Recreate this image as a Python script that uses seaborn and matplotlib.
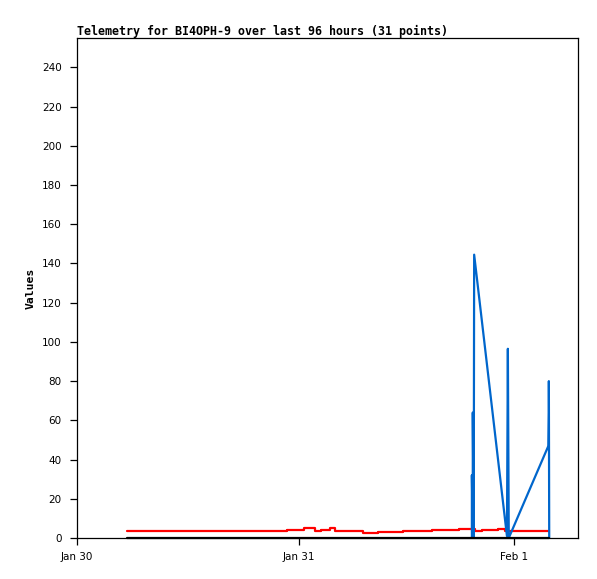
import pandas as pd
import matplotlib
matplotlib.use("Agg")
import matplotlib.pyplot as plt
import seaborn as sns

# hours since Jan 30 00:00
red_hours = [5.5, 23.0, 24.9, 26.1, 26.8, 27.8, 28.3, 31.4, 33.0, 35.8, 39.0, 41.9, 43.7, 44.5, 46.2, 47.0, 51.8]
red_values = [3.7, 4.2, 5.0, 3.7, 4.2, 5.0, 3.7, 2.7, 3.2, 3.7, 4.2, 4.8, 3.6, 4.2, 4.8, 3.6, 3.6]

blue_hours = [43.35, 43.35, 43.45, 43.45, 43.55, 43.6, 47.2, 47.3, 47.4, 51.75, 51.8, 51.8, 51.84]
blue_values = [0, 32, 0, 64, 0, 144.5, 1, 96.5, 0, 47, 64, 80, 0]

black_hours = [5.5, 51.84]
black_values = [0, 0]

tick_hours = [0, 24.35, 48]
tick_labels = ["Jan 30", "Jan 31", "Feb 1"]

sns.set_style("ticks")

fig = plt.figure(figsize=(5.97, 5.79), dpi=100)
ax = fig.add_axes([77 / 597, 41 / 579, 501 / 597, 500 / 579])

red = pd.DataFrame({"hours": red_hours, "value": red_values})
blue = pd.DataFrame({"hours": blue_hours, "value": blue_values})
black = pd.DataFrame({"hours": black_hours, "value": black_values})

sns.lineplot(data=red, x="hours", y="value", color="#ff0000", linewidth=1.6,
             estimator=None, sort=False, drawstyle="steps-post", ax=ax)
sns.lineplot(data=blue, x="hours", y="value", color="#0066cc", linewidth=1.6,
             estimator=None, sort=False, ax=ax)
sns.lineplot(data=black, x="hours", y="value", color="black", linewidth=1.6,
             estimator=None, sort=False, clip_on=False, ax=ax)

ax.set_xlim(0, 55)
ax.set_ylim(0, 255)
ax.set_xticks(tick_hours)
ax.set_xticklabels(tick_labels)
ax.set_yticks(range(0, 241, 20))
ax.tick_params(axis="both", labelsize=7.5, length=5, width=0.9, colors="black")
ax.tick_params(axis="x", pad=5)
ax.tick_params(axis="y", pad=6)
for lab in ax.get_xticklabels() + ax.get_yticklabels():
    lab.set_family("DejaVu Sans")

for s in ax.spines.values():
    s.set_visible(True)
    s.set_linewidth(0.9)
    s.set_color("black")

ax.set_xlabel("")
ax.set_ylabel("Values", fontsize=8.2, fontweight="bold", family="DejaVu Sans Mono", color="black")
ax.yaxis.set_label_coords(-0.082, 0.5)
ax.set_title("Telemetry for BI4OPH-9 over last 96 hours (31 points)", loc="left",
             fontsize=8.4, fontweight="bold", family="DejaVu Sans Mono", color="black", pad=2)

fig.savefig("out.png", dpi=100)
